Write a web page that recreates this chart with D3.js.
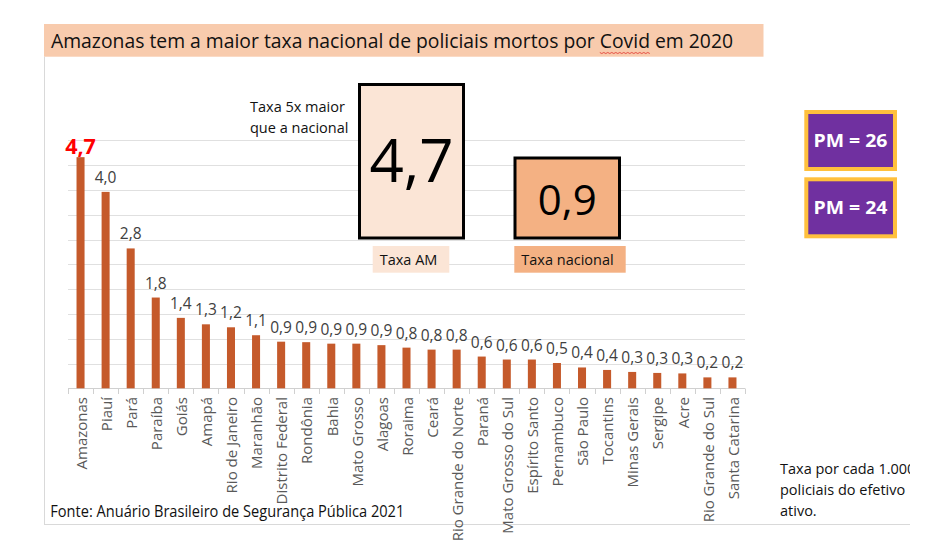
<!DOCTYPE html>
<html><head><meta charset="utf-8">
<script src="https://cdn.jsdelivr.net/npm/d3@7"></script>
<style>body{margin:0;background:#fff}svg{display:block}</style>
</head><body><svg id="c" width="945" height="552"></svg>
<script>
// ---------- DATA ----------
const categories = ["Amazonas","Piauí","Pará","Paraíba","Goiás","Amapá","Rio de Janeiro","Maranhão","Distrito Federal","Rondônia","Bahia","Mato Grosso","Alagoas","Roraima","Ceará","Rio Grande do Norte","Paraná","Mato Grosso do Sul","Espírito Santo","Pernambuco","São Paulo","Tocantins","Minas Gerais","Sergipe","Acre","Rio Grande do Sul","Santa Catarina"];
const rates = [4.66,3.96,2.82,1.83,1.42,1.29,1.23,1.07,0.94,0.93,0.90,0.90,0.87,0.82,0.78,0.78,0.64,0.58,0.58,0.51,0.42,0.37,0.33,0.31,0.30,0.22,0.22];
const gridValues = [0.5,1,1.5,2,2.5,3,3.5,4,4.5,5];
const compareLabels = ["Taxa AM","Taxa nacional"];
const compareValues = [4.7, 0.9];
const pmLabels = ["PM = 26","PM = 24"];
const titleText = "Amazonas tem a maior taxa nacional de policiais mortos por Covid em 2020";
const sourceText = "Fonte: Anuário Brasileiro de Segurança Pública 2021";
const noteLines = ["Taxa por cada 1.000","policiais do efetivo","ativo."];
const calloutLines = ["Taxa 5x maior","que a nacional"];

// ---------- DRAW ----------
const svg = d3.select("#c");
const FONT = "'Open Sans', 'Noto Sans', sans-serif";
const fmt = v => d3.format(".1f")(v).replace(".", ",");

function fit(sel, w){ sel.attr("textLength", w).attr("lengthAdjust","spacingAndGlyphs"); return sel; }

svg.append("rect").attr("width",945).attr("height",552).attr("fill","#fff");

// title band
svg.append("rect").attr("x",44).attr("y",24).attr("width",719.5).attr("height",32.7).attr("fill","#F8CBAD");
const title = svg.append("text").attr("x",51).attr("y",48).attr("font-family",FONT)
  .attr("font-size",19.5).attr("fill","#111").text(titleText);
fit(title, 682);
// spellcheck squiggle under "Covid"
{
  const node = title.node();
  const i = titleText.indexOf("Covid");
  const nat = node.getComputedTextLength();
  const k = 682/nat;
  const x0 = 51 + node.getSubStringLength(0,i)*k;
  const w = node.getSubStringLength(i,5)*k;
  const pts = d3.range(0, Math.floor(w/2)+1).map(j => [x0 + j*2, 52.5 + (j%2 ? 1 : 0)]);
  svg.append("path").attr("d", d3.line()(pts)).attr("stroke","#e0302a").attr("stroke-width",0.8).attr("fill","none");
}

// panel frame
svg.append("line").attr("x1",44.5).attr("x2",44.5).attr("y1",56.7).attr("y2",524).attr("stroke","#d9d9d9");
svg.append("line").attr("x1",44).attr("x2",910).attr("y1",524.5).attr("y2",524.5).attr("stroke","#d9d9d9");

// scales
const x = d3.scaleBand().domain(categories).range([68,745]).paddingInner(0.68).paddingOuter(0.34);
const y = d3.scaleLinear().domain([0,5]).range([388.3,140.3]);

// gridlines
svg.append("g").selectAll("line").data(gridValues).join("line")
  .attr("x1",68).attr("x2",745)
  .attr("y1",d=>Math.round(y(d))+0.5).attr("y2",d=>Math.round(y(d))+0.5)
  .attr("stroke","#e0e0e0").attr("stroke-width",1);

// axis line + ticks
svg.append("line").attr("x1",68).attr("x2",745).attr("y1",388.5).attr("y2",388.5).attr("stroke","#d0d0d0");
svg.append("g").selectAll("line").data(d3.range(categories.length+1)).join("line")
  .attr("x1",d=>Math.round(x.range()[0]+d*x.step())+0.5).attr("x2",d=>Math.round(x.range()[0]+d*x.step())+0.5)
  .attr("y1",388.5).attr("y2",394).attr("stroke","#d0d0d0");

// bars
svg.append("g").selectAll("rect").data(categories).join("rect")
  .attr("x",d=>x(d)).attr("width",x.bandwidth())
  .attr("y",(d,i)=>y(rates[i])).attr("height",(d,i)=>y(0)-y(rates[i]))
  .attr("fill","#C55A2B");

// value labels
svg.append("g").selectAll("text").data(categories).join("text")
  .attr("x",d=>x(d)+x.bandwidth()/2)
  .attr("y",(d,i)=> i===0 ? y(rates[i])-3 : y(rates[i])-9)
  .attr("text-anchor","middle").attr("font-family",FONT)
  .attr("font-size",(d,i)=> i===0 ? 21.5 : 15.5)
  .attr("font-weight",(d,i)=> i===0 ? 700 : 400)
  .attr("fill",(d,i)=> i===0 ? "#FF0000" : "#404040")
  .text((d,i)=>fmt(rates[i]));

// category labels
svg.append("g").selectAll("text").data(categories).join("text")
  .attr("transform",d=>`translate(${x(d)+x.bandwidth()/2+1},397) rotate(-90)`)
  .attr("text-anchor","end").attr("dy","0.35em")
  .attr("font-family",FONT).attr("font-size",15).attr("fill","#595959")
  .text(d=>d);

// callout text
svg.append("g").selectAll("text").data(calloutLines).join("text")
  .attr("x",250).attr("y",(d,i)=>111.5+i*21)
  .attr("font-family",FONT).attr("font-size",14.5).attr("fill","#111").text(d=>d);

// comparison boxes
const boxes = [
  {x:359.5, y:84.5, w:104, h:153.5, fill:"#FBE5D6", fs:60, by:181.5, lx:372.7, lw:76.6, lfill:"#FBE5D6"},
  {x:515, y:158, w:104.5, h:80, fill:"#F4B183", fs:42, by:215, lx:514.3, lw:111.4, lfill:"#F4B183"}
];
boxes.forEach((b,i)=>{
  svg.append("rect").attr("x",b.x).attr("y",b.y).attr("width",b.w).attr("height",b.h)
    .attr("fill",b.fill).attr("stroke","#000").attr("stroke-width",3);
  svg.append("text").attr("x",b.x+b.w/2).attr("y",b.by).attr("text-anchor","middle")
    .attr("font-family",FONT).attr("font-size",b.fs).attr("fill","#000").text(fmt(compareValues[i]));
  svg.append("rect").attr("x",b.lx).attr("y",246).attr("width",b.lw).attr("height",26.7).attr("fill",b.lfill);
  svg.append("text").attr("x",b.lx+7).attr("y",265).attr("font-family",FONT).attr("font-size",14.5)
    .attr("fill","#111").text(compareLabels[i]);
});

// PM boxes
pmLabels.forEach((t,i)=>{
  const top = 110 + i*67.3;
  svg.append("rect").attr("x",806.3).attr("y",top+2).attr("width",88.7).attr("height",57)
    .attr("fill","#7030A0").attr("stroke","#FFC03D").attr("stroke-width",4);
  fit(svg.append("text").attr("x",850.5).attr("y",top+37).attr("text-anchor","middle")
    .attr("font-family",FONT).attr("font-size",18).attr("font-weight",700).attr("fill","#fff").text(t), 74);
});

// source
fit(svg.append("text").attr("x",50.3).attr("y",517).attr("font-family",FONT).attr("font-size",15.5)
  .attr("fill","#111").text(sourceText), 354);

// note (clipped at panel edge)
svg.append("clipPath").attr("id","noteclip").append("rect").attr("x",770).attr("y",440).attr("width",140).attr("height",90);
const note = svg.append("g").attr("clip-path","url(#noteclip)");
note.selectAll("text").data(noteLines).join("text")
  .attr("x",780).attr("y",(d,i)=>474+i*21)
  .attr("font-family",FONT).attr("font-size",14.5).attr("fill","#111").text(d=>d);
</script>
</body></html>
